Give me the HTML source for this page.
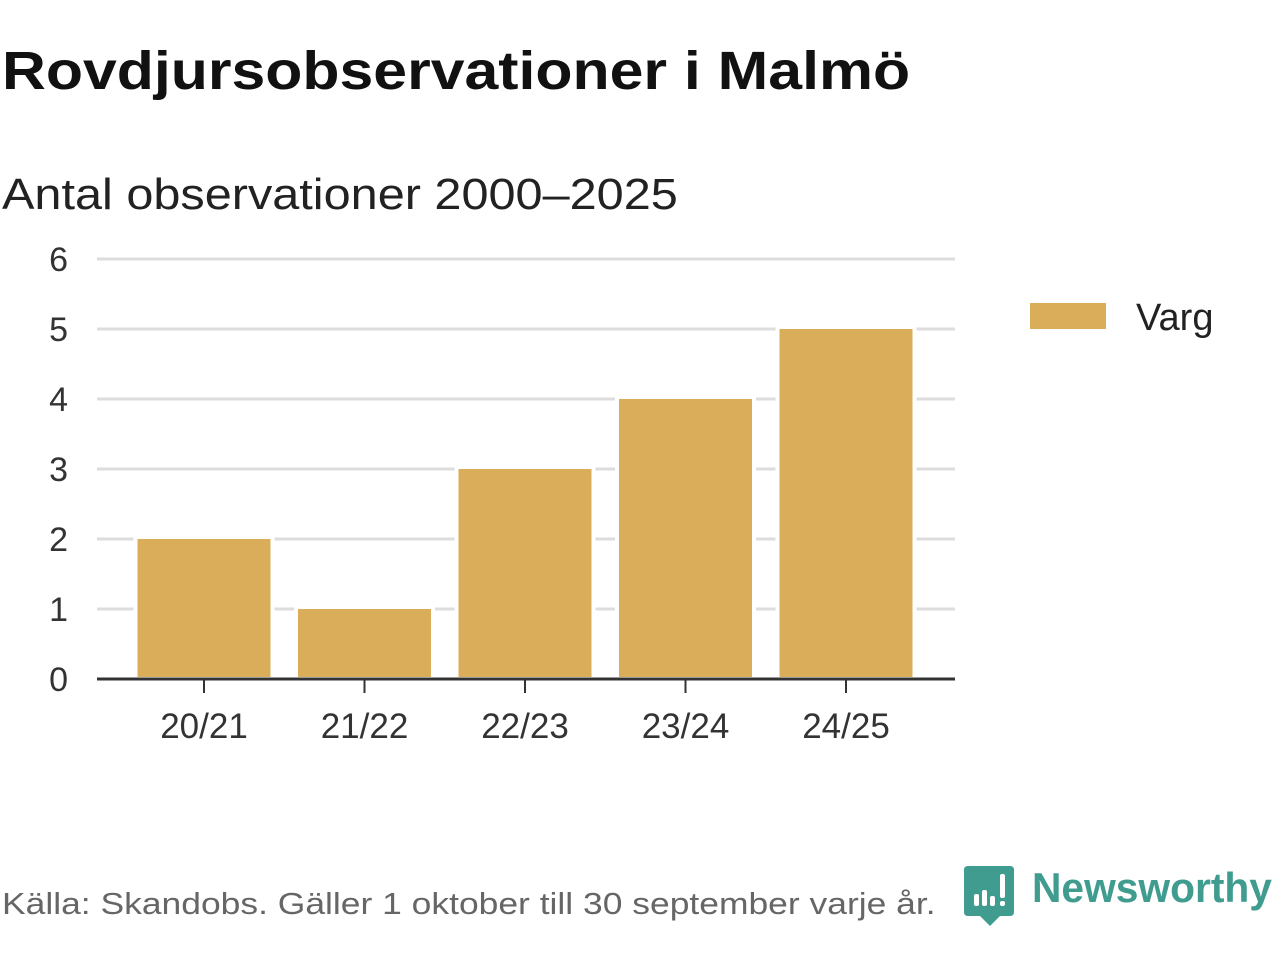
<!DOCTYPE html>
<html><head><meta charset="utf-8"><style>
body{margin:0;width:1280px;height:960px;background:#fff;font-family:"Liberation Sans",sans-serif;overflow:hidden;position:relative}
.t{position:absolute;white-space:nowrap;transform-origin:0 0}
</style></head><body>
<div class="t" style="left:2px;top:40px;font-size:54px;font-weight:bold;color:#111;transform:scaleX(1.125)">Rovdjursobservationer i Malmö</div>
<div class="t" style="left:2px;top:170px;font-size:44px;color:#222;transform:scaleX(1.105)">Antal observationer 2000–2025</div>
<svg id="chart" width="1280" height="960" style="position:absolute;left:0;top:0"></svg>
<div class="t" style="left:2px;top:886px;font-size:31px;color:#666;transform:scaleX(1.143)">Källa: Skandobs. Gäller 1 oktober till 30 september varje år.</div>
<svg width="52" height="62" style="position:absolute;left:964px;top:866px">
<path d="M4 0H46Q50 0 50 4V46Q50 50 46 50H36L26 60L16 50H4Q0 50 0 46V4Q0 0 4 0Z" fill="#3f9c8f"/>
<rect x="10" y="28" width="5" height="12" rx="2" fill="#fff"/><rect x="18" y="24" width="5" height="16" rx="2" fill="#fff"/><rect x="26" y="30" width="5" height="10" rx="2" fill="#fff"/><rect x="36" y="8" width="5" height="24" rx="2" fill="#fff"/><rect x="36" y="35" width="5" height="5" rx="2" fill="#fff"/>
</svg>
<div class="t" style="left:1032px;top:864px;font-size:42px;color:#3f9c8f;font-weight:bold;transform:scaleX(0.97)">Newsworthy</div>
<script>
const categories=["20/21","21/22","22/23","23/24","24/25"];
const values=[2,1,3,4,5];
const yTicks=[0,1,2,3,4,5,6];
const seriesName="Varg";
const svg=document.getElementById('chart');
const NS="http://www.w3.org/2000/svg";
const x0=97,x1=955,y0=679,yTop=259,yMax=6;
const band=160.5;
function y(v){return y0-(v/yMax)*(y0-yTop);}
function xc(i){return 204+band*i;}
function mk(t,a){const e=document.createElementNS(NS,t);for(const k in a)e.setAttribute(k,a[k]);svg.appendChild(e);return e;}
yTicks.forEach(v=>{
 if(v>0){const g=mk('line',{x1:x0,x2:x1,y1:y(v),y2:y(v),stroke:'#dddddd','stroke-width':3});
 
 }
 const t=mk('text',{x:68,y:y(v)+12,'text-anchor':'end','font-size':34,fill:'#333','font-family':'Liberation Sans, sans-serif'});
 t.textContent=v;
 
 
});
categories.forEach((c,i)=>{
 const w=137;
 const r=mk('rect',{x:xc(i)-w/2,y:y(values[i])-2,width:w,height:y0-y(values[i])+2,fill:'#d9ad5a',stroke:'#fff','stroke-width':4});
 
 
 const tk=mk('line',{x1:xc(i),x2:xc(i),y1:y0,y2:y0+14,stroke:'#333','stroke-width':2});
 
 
 const t=mk('text',{x:xc(i),y:y0+59,'text-anchor':'middle','font-size':35,fill:'#333','font-family':'Liberation Sans, sans-serif'});
 t.textContent=c;
 
 
});
const ax=mk('line',{x1:x0,x2:x1,y1:y0,y2:y0,stroke:'#333','stroke-width':3});


const lg=mk('rect',{x:1030,y:303,width:76,height:26,fill:'#d9ad5a'});


const lt=mk('text',{x:1136,y:330,'font-size':38,fill:'#222','font-family':'Liberation Sans, sans-serif'});
lt.textContent=seriesName;


</script>
</body></html>
